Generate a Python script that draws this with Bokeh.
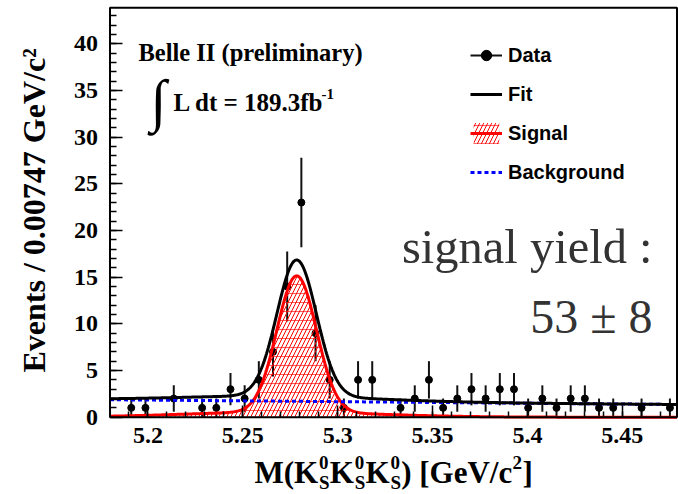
import numpy as np
from bokeh.plotting import figure
from bokeh.models import Range1d, FixedTicker, CustomJSTickFormatter, Label, Legend, LegendItem, ColumnDataSource
from bokeh.embed import file_html
from bokeh.resources import INLINE

# ---------------- data ----------------
x_low = 5.18
bin_width = 0.00747
n_bins = 40
counts = [0, 1, 1, 0, 2, 0, 1, 1, 3, 2, 4, 7, 14, 23, 9, 4, 1, 4, 4, 0,
          1, 2, 4, 1, 2, 3, 2, 3, 3, 1, 2, 1, 2, 2, 1, 1, 0, 1, 0, 1]

# fit components (parameters)
sig_mean = 5.2784
sig_sigma = 0.0104
sig_peak = 14.6
tail_mean = 5.270
tail_sigma = 0.050
tail_peak = 0.55
bkg_left = 1.87
bkg_right = 1.36

x_ticks = [5.2, 5.25, 5.3, 5.35, 5.4, 5.45]
y_ticks = [0, 5, 10, 15, 20, 25, 30, 35, 40]
y_top = 43.86

x_high = x_low + n_bins * bin_width

# ---------------- layout (pixels of the canvas) ----------------
W, H = 678, 494
box_l, box_r, box_t, box_b = 109.5, 676.5, 7.3, 416.7
sx = (box_r - box_l) / (x_high - x_low)
sy = (box_b - box_t) / y_top
xa = x_low - box_l / sx
xb = x_high + (W - box_r) / sx
ya = -(H - box_b) / sy
yb = y_top + box_t / sy

# ---------------- derived ----------------
centers = [x_low + (i + 0.5) * bin_width for i in range(n_bins)]
dx = [c for c, n in zip(centers, counts) if n > 0]
dy = [n for n in counts if n > 0]
de = [float(np.sqrt(n)) for n in dy]
data_src = ColumnDataSource(dict(x=dx, y=dy,
                                 lo=[a - b for a, b in zip(dy, de)],
                                 hi=[a + b for a, b in zip(dy, de)]))

xs = np.linspace(x_low, x_high, 700)
sig = (sig_peak * np.exp(-0.5 * ((xs - sig_mean) / sig_sigma) ** 2)
       + tail_peak * np.exp(-0.5 * ((xs - tail_mean) / tail_sigma) ** 2))
bkg = bkg_left + (bkg_right - bkg_left) * (xs - x_low) / (x_high - x_low)
tot = sig + bkg
curve_src = ColumnDataSource(dict(x=xs, sig=sig, bkg=bkg, tot=tot, zero=np.zeros_like(xs)))

# ---------------- figure ----------------
p = figure(width=W, height=H, output_backend="svg", toolbar_location=None,
           x_range=Range1d(xa, xb), y_range=Range1d(ya, yb),
           min_border_left=0, min_border_right=0, min_border_top=0, min_border_bottom=0,
           background_fill_color="white", border_fill_color="white",
           outline_line_color=None)
p.xgrid.visible = False
p.ygrid.visible = False

x_minor = [round(v, 3) for v in np.arange(5.19, x_high, 0.01)]
y_minor = list(range(1, 44))

p.xaxis.fixed_location = 0
p.yaxis.fixed_location = x_low
for ax in (p.xaxis[0], p.yaxis[0]):
    ax.axis_line_color = None
    ax.major_tick_in = 12
    ax.major_tick_out = 0
    ax.minor_tick_in = 6
    ax.minor_tick_out = 0
    ax.major_tick_line_color = "black"
    ax.minor_tick_line_color = "black"
    ax.major_tick_line_width = 1.5
    ax.minor_tick_line_width = 1.5
    ax.major_label_text_font = "Liberation Serif"
    ax.major_label_text_font_style = "bold"
    ax.major_label_text_font_size = "24px"
    ax.major_label_text_color = "black"

p.xaxis.ticker = FixedTicker(ticks=x_ticks, minor_ticks=x_minor)
p.xaxis.formatter = CustomJSTickFormatter(code="return parseFloat(tick.toFixed(3)).toString();")
p.xaxis.major_label_standoff = 11
p.yaxis.ticker = FixedTicker(ticks=y_ticks, minor_ticks=y_minor)
p.yaxis.major_label_standoff = 12

# data points with error bars
r_err = p.segment(x0="x", y0="lo", x1="x", y1="hi", source=data_src,
                  line_color="#111111", line_width=2)
r_pts = p.scatter(x="x", y="y", source=data_src, size=7, marker="circle",
                  fill_color="black", line_color="black")

# signal (hatched)
r_h1 = p.varea(x="x", y1="zero", y2="sig", source=curve_src, fill_alpha=0,
               hatch_pattern="/", hatch_color="red", hatch_scale=8, hatch_weight=1)
r_h2 = p.varea(x="x", y1="zero", y2="sig", source=curve_src, fill_alpha=0,
               hatch_pattern="-", hatch_color="red", hatch_scale=9, hatch_weight=0.8,
               hatch_alpha=0.8)
r_sig = p.line(x="x", y="sig", source=curve_src, line_color="red", line_width=3)
r_bkg = p.line(x="x", y="bkg", source=curve_src, line_color="blue", line_width=3,
               line_dash="4 3")
r_tot = p.line(x="x", y="tot", source=curve_src, line_color="black", line_width=3)

# frame box of the data region
p.quad(left=[x_low], right=[x_high], bottom=[0], top=[y_top], fill_alpha=0,
       line_color="black", line_width=2)

legend = Legend(items=[
    LegendItem(label="Data", renderers=[r_err, r_pts]),
    LegendItem(label="Fit", renderers=[r_tot]),
    LegendItem(label="Signal", renderers=[r_h1, r_h2, r_sig]),
    LegendItem(label="Background", renderers=[r_bkg]),
], location=(470, 309), padding=0, margin=0, spacing=13,
    glyph_width=32, glyph_height=26, label_height=26, label_standoff=6,
    label_text_font="Liberation Sans", label_text_font_style="bold",
    label_text_font_size="20px", label_text_color="black",
    background_fill_alpha=0, border_line_alpha=0)
p.add_layout(legend)


def lab(text, x, y, size, font="Liberation Serif", style="bold", align="left",
        baseline="alphabetic", color="black", angle=0):
    # x, y: canvas pixels from the top-left corner
    p.add_layout(Label(text=text, x=x, y=H - y, x_units="screen", y_units="screen",
                       text_font=font, text_font_style=style, text_font_size=size,
                       text_align=align, text_baseline=baseline, text_color=color,
                       angle=angle))


lab("Belle II (preliminary)", 138, 52, "24.5px")
lab("\u222b", 158, 100, "58px", style="italic", align="center", baseline="middle")
lab("L dt = 189.3fb", 173, 102, "25px")
lab("-1", 321, 93, "15px")
lab("signal yield :", 652, 246, "48.5px", style="normal", align="right", color="#333333")
lab("53 \u00b1 8", 652, 316, "48px", style="normal", align="right", color="#333333")

# y axis title (rotated)
lab("Events / 0.00747 GeV/c\u00b2", 33, 372, "32px", angle=np.pi / 2)

# x axis title: M(K0S K0S K0S) [GeV/c2]
base, sup, sub = 472, 462, 482
lab("M(", 254, base, "31px")
for kx in (293.6, 329.3, 365.0):
    lab("K", kx, base, "31px")
    lab("0", kx + 25, sup, "19px")
    lab("S", kx + 25, sub, "19px")
lab(") [GeV/c", 400.7, base, "31px")
lab("2", 512, sup, "19px")
lab("]", 522, base, "31px")

open("out.html", "w").write(file_html(p, INLINE))
